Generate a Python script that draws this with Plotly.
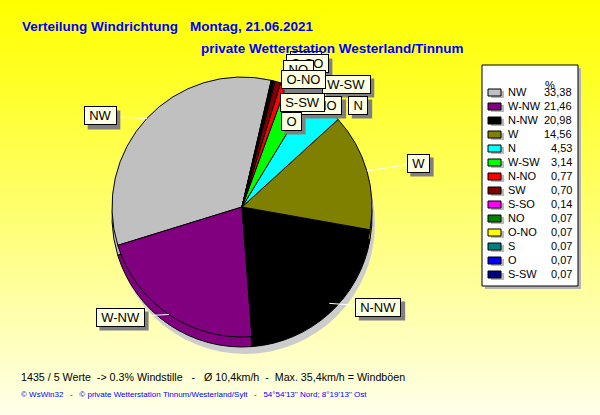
import math
import plotly.graph_objects as go

# ---------------- data ----------------
directions = ["NW", "W-NW", "N-NW", "W", "N", "W-SW", "N-NO", "SW",
              "S-SO", "NO", "O-NO", "S", "O", "S-SW"]
percent = [33.38, 21.46, 20.98, 14.56, 4.53, 3.14, 0.77, 0.70,
           0.14, 0.07, 0.07, 0.07, 0.07, 0.07]
colors = ["#C0C0C0", "#800080", "#000000", "#808000", "#00FFFF", "#00FF00",
          "#FF0000", "#800000", "#FF00FF", "#008000", "#FFFF00", "#008080",
          "#0000FF", "#000080"]

legend_header = "%"
title_left = "Verteilung Windrichtung"
title_date = "Montag, 21.06.2021"
subtitle = "private Wetterstation Westerland/Tinnum"
stats_text = "1435 / 5 Werte  -> 0.3% Windstille   -   Ø 10,4km/h  -  Max. 35,4km/h = Windböen"
footer_text = "© WsWin32   -   © private Wetterstation Tinnum/Westerland/Sylt   -   54°54'13'' Nord; 8°19'13'' Ost"

# ---------------- layout helpers ----------------
W, H = 600, 415
CX, CY, R, DEPTH = 242, 207, 130, 10
START = 13.0  # degrees clockwise from 12 o'clock where the first slice ends
SANS = "Liberation Sans, Arial, sans-serif"


def fx(px):
    return px / W


def fy(py):
    return 1 - py / H


def nb(s):
    return s.replace(" ", "\u00a0")


ARIAL = {"N": 722, "W": 944, "O": 778, "S": 667, "-": 333}


def est_width(s, size):
    return sum(ARIAL.get(c, 600) for c in s) * size / 1000.0


fig = go.Figure()

total = sum(percent)
first_angle = percent[0] / total * 360.0

# side (depth) of the disc, then the top surface
for dy in (DEPTH, 0):
    fig.add_trace(go.Pie(
        labels=directions, values=percent, sort=False,
        direction="counterclockwise", rotation=START - first_angle,
        marker=dict(colors=colors, line=dict(color="#000000", width=1)),
        textinfo="none", showlegend=False,
        hovertemplate="%{label}: %{value:.2f} %<extra></extra>",
        domain=dict(x=[fx(CX - R), fx(CX + R)], y=[fy(CY + dy + R), fy(CY + dy - R)]),
    ))

shapes = []
# background gradient
step = 5
for yy in range(0, H, step):
    t = (yy + step / 2) / H
    b = int(round(235 * t ** 1.1))
    shapes.append(dict(type="rect", xref="paper", yref="paper", x0=0, x1=1,
                       y0=fy(min(yy + step, H)), y1=fy(yy), layer="below",
                       fillcolor=f"rgb(255,255,{b})", line=dict(width=0)))
# pie drop shadow
shapes.append(dict(type="circle", xref="paper", yref="paper", layer="below",
                   x0=fx(CX + 3 - R), x1=fx(CX + 3 + R),
                   y0=fy(CY + DEPTH + 7 + R), y1=fy(CY + DEPTH + 7 - R),
                   fillcolor="#CCCCCC", line=dict(width=0)))

# legend box
LX0, LX1, LY0, LY1 = 482, 578, 65, 286
shapes.append(dict(type="rect", xref="paper", yref="paper", layer="below",
                   x0=fx(LX0 + 3), x1=fx(LX1 + 3), y0=fy(LY1 + 3), y1=fy(LY0 + 3),
                   fillcolor="#B4B4B4", line=dict(width=0)))
shapes.append(dict(type="rect", xref="paper", yref="paper", layer="below",
                   x0=fx(LX0), x1=fx(LX1), y0=fy(LY1), y1=fy(LY0),
                   fillcolor="#FFFFFF", line=dict(color="#000000", width=1)))

annotations = []
annotations.append(dict(text=legend_header, x=fx(557), y=fy(77), xref="paper", yref="paper",
                        showarrow=False, font=dict(family=SANS, size=11, color="#000000")))
for i, (name, val, col) in enumerate(zip(directions, percent, colors)):
    yc = 92 + 14 * i
    shapes.append(dict(type="rect", xref="paper", yref="paper", layer="below",
                       x0=fx(491), x1=fx(504), y0=fy(yc + 6), y1=fy(yc - 1),
                       fillcolor="#B8B8B8", line=dict(width=0)))
    shapes.append(dict(type="rect", xref="paper", yref="paper", layer="below",
                       x0=fx(488), x1=fx(501), y0=fy(yc + 4), y1=fy(yc - 3),
                       fillcolor=col, line=dict(color="#000000", width=1)))
    annotations.append(dict(text=name, x=fx(506), y=fy(yc), xref="paper", yref="paper",
                            xanchor="left", yanchor="middle", showarrow=False,
                            font=dict(family=SANS, size=11, color="#000000")))
    annotations.append(dict(text=f"{val:.2f}".replace(".", ","), x=fx(574), y=fy(yc),
                            xref="paper", yref="paper", xanchor="right", yanchor="middle",
                            showarrow=False,
                            font=dict(family=SANS, size=11, color="#000000")))

# pie label boxes (layout positions of the callouts)
label_pos = [
    ("S", 300, 63), ("SW", 306, 61), ("S-SO", 307, 64), ("NO", 298, 69),
    ("W-SW", 346, 84), ("O-NO", 303, 80), ("N-NO", 320, 105), ("N", 358, 105),
    ("S-SW", 302, 102), ("O", 291, 121),
    ("NW", 100, 116), ("W", 418, 163), ("N-NW", 378, 307), ("W-NW", 120, 317),
]
leader = {"NW", "W", "N-NW", "W-NW", "N"}

# slice mid angles (for leader lines)
mid_angle = {}
cum = 0.0
for name, val in zip(directions, percent):
    a = val / total * 360.0
    mid_angle[name] = START - (cum + a / 2)
    cum += a

for name, lx, ly in label_pos:
    if name in leader:
        ang = math.radians(mid_angle[name])
        ex = CX + R * math.sin(ang)
        ey = CY - R * math.cos(ang)
        shapes.append(dict(type="line", xref="paper", yref="paper", layer="above",
                           x0=fx(ex), y0=fy(ey), x1=fx(lx), y1=fy(ly),
                           line=dict(color="#FFFFFF", width=1)))

for name, lx, ly in label_pos:
    wbox = est_width(name, 13) + 5
    bw, bh = wbox + 6, 19
    shapes.append(dict(type="rect", xref="paper", yref="paper", layer="above",
                       x0=fx(lx - bw / 2 + 4), x1=fx(lx + bw / 2 + 4),
                       y0=fy(ly + bh / 2 + 4), y1=fy(ly - bh / 2 + 4),
                       fillcolor="#808080", line=dict(width=0)))
    annotations.append(dict(text=name, x=fx(lx), y=fy(ly), xref="paper", yref="paper",
                            showarrow=False, width=wbox, height=13, borderpad=2, borderwidth=1,
                            xanchor="center", yanchor="middle",
                            bgcolor="#FFFFE1", bordercolor="#000000",
                            font=dict(family=SANS, size=13, color="#000000")))

# titles and footer texts
tfont = dict(family=SANS, size=13.5, color="#0000FF", weight="bold")
annotations.append(dict(text=title_left, x=fx(20), y=fy(26), xref="paper", yref="paper",
                        xanchor="left", yanchor="middle", showarrow=False, font=tfont))
annotations.append(dict(text=title_date, x=fx(188), y=fy(26), xref="paper", yref="paper",
                        xanchor="left", yanchor="middle", showarrow=False, font=tfont))
annotations.append(dict(text=subtitle, x=fx(199), y=fy(49), xref="paper", yref="paper",
                        xanchor="left", yanchor="middle", showarrow=False, font=tfont))
annotations.append(dict(text=nb(stats_text), x=fx(19), y=fy(377), xref="paper", yref="paper",
                        xanchor="left", yanchor="middle", showarrow=False,
                        font=dict(family=SANS, size=10.7, color="#000000")))
annotations.append(dict(text=nb(footer_text), x=fx(19), y=fy(394), xref="paper", yref="paper",
                        xanchor="left", yanchor="middle", showarrow=False,
                        font=dict(family=SANS, size=8, color="#0000FF")))

fig.update_layout(
    width=W, height=H, margin=dict(l=0, r=0, t=0, b=0),
    paper_bgcolor="#FFFF00", plot_bgcolor="rgba(0,0,0,0)",
    shapes=shapes, annotations=annotations, showlegend=False,
)

fig.write_html("out.html", config={"displayModeBar": False},
               post_script="document.body.style.margin='0px';")
